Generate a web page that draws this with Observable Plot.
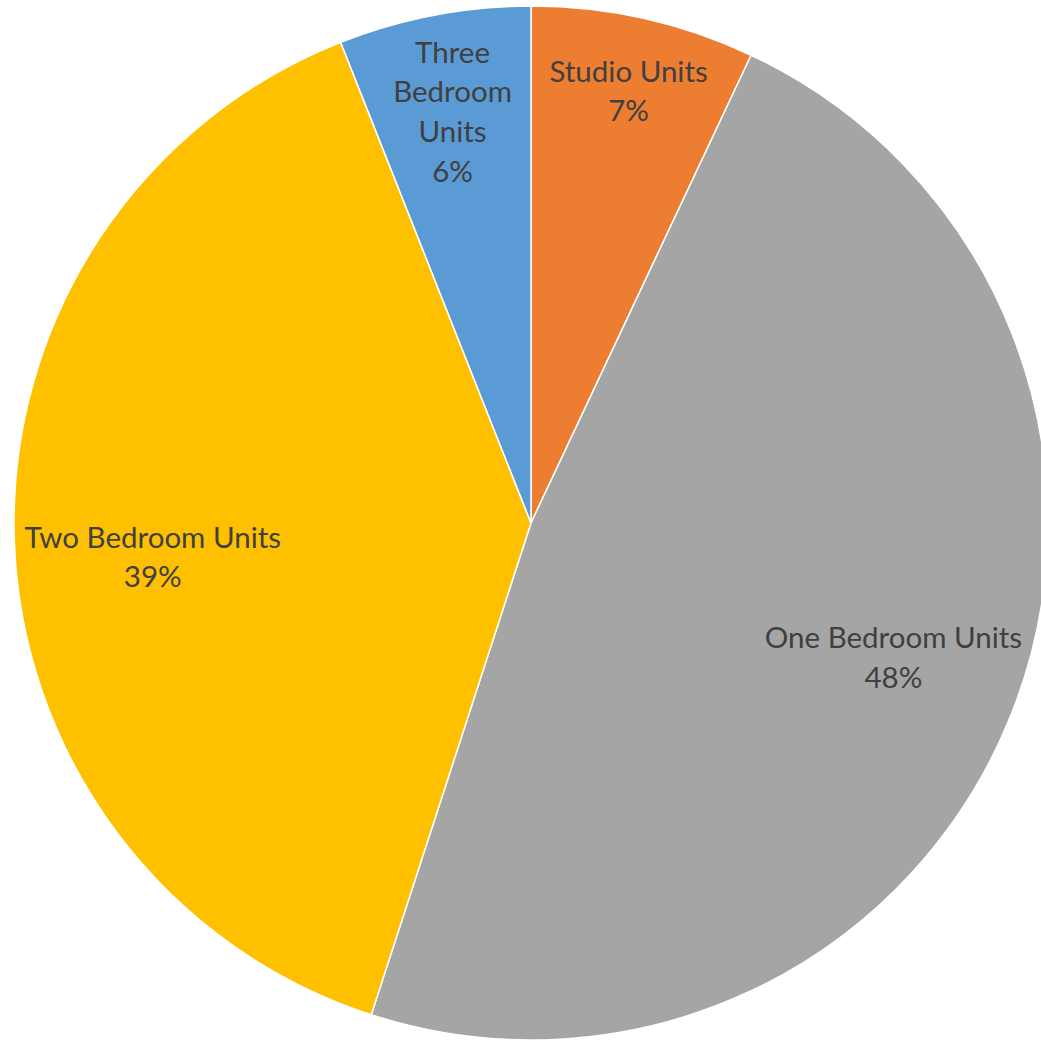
<!DOCTYPE html>
<html>
<head>
<meta charset="utf-8">
<script src="https://cdn.jsdelivr.net/npm/d3@7"></script>
<script src="https://cdn.jsdelivr.net/npm/@observablehq/plot@0.6"></script>
<style>
  html, body { margin: 0; padding: 0; background: #fff; }
  #chart { width: 1041px; height: 1042px; overflow: hidden; }
</style>
</head>
<body>
<div id="chart"></div>
<script>
const categories = ["Studio Units", "One Bedroom Units", "Two Bedroom Units", "Three Bedroom Units"];
const shares = [7, 48, 39, 6];
const labelNames = ["Studio Units", "One Bedroom Units", "Two Bedroom Units", "Three\nBedroom\nUnits"];
const colors = ["#ED7D31", "#A5A5A5", "#FFC000", "#5B9BD5"];

const W = 1041, H = 1042;
const cx = 531, cy = 523, R = 517;

// label placement (radius fraction, angular nudge in degrees) – mimics Excel "best fit"
const labelRadius = [0.861, 0.745, 0.735, 0.815];
const labelNudge = [0, -1.6, -2.9, 0];

const data = categories.map((c, i) => ({ name: c, value: shares[i], label: labelNames[i] + "\n" + shares[i] + "%" }));
const pie = d3.pie().value(d => d.value).sort(null);
const arcs = pie(data);
const arcGen = d3.arc().innerRadius(0).outerRadius(R);

const labels = arcs.map((a, i) => {
  const mid = (a.startAngle + a.endAngle) / 2 + labelNudge[i] * Math.PI / 180;
  const frac = labelRadius[i];
  return {
    x: cx + Math.sin(mid) * R * frac,
    y: cy - Math.cos(mid) * R * frac,
    text: a.data.label
  };
});

const chart = Plot.plot({
  width: W,
  height: H,
  margin: 0,
  x: { type: "identity", axis: null },
  y: { type: "identity", axis: null },
  color: { domain: categories, range: colors },
  style: { background: "#fff" },
  marks: [
    (index, scales) => {
      const g = d3.create("svg:g").attr("transform", `translate(${cx},${cy})`);
      g.selectAll("path")
        .data(arcs)
        .join("path")
        .attr("d", arcGen)
        .attr("fill", d => scales.color(d.data.name))
        .attr("stroke", "#fff")
        .attr("stroke-width", 1.5);
      return g.node();
    },
    Plot.text(labels, {
      x: "x",
      y: "y",
      text: "text",
      fill: "#404040",
      fontSize: 29.5,
      fontFamily: "Lato, 'Open Sans', sans-serif",
      lineHeight: 1.34,
      lineAnchor: "middle",
      textAnchor: "middle"
    })
  ]
});
document.getElementById("chart").appendChild(chart);
</script>
</body>
</html>
